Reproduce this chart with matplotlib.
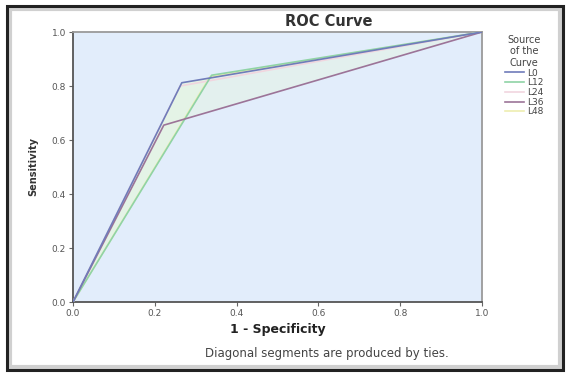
import matplotlib
matplotlib.use("Agg")
import matplotlib.pyplot as plt
import matplotlib.patches as mpatches
from matplotlib.lines import Line2D

# ROC points (1 - specificity, sensitivity) per source
SOURCES = ["L0", "L12", "L24", "L36", "L48"]
FPR = {
    "L0":  [0.0, 0.266, 1.0],
    "L12": [0.0, 0.339, 1.0],
    "L24": [0.0, 0.262, 1.0],
    "L36": [0.0, 0.222, 1.0],
    "L48": [0.0, 0.335, 1.0],
}
TPR = {
    "L0":  [0.0, 0.812, 1.0],
    "L12": [0.0, 0.840, 1.0],
    "L24": [0.0, 0.800, 1.0],
    "L36": [0.0, 0.655, 1.0],
    "L48": [0.0, 0.835, 1.0],
}
TICKS = [0.0, 0.2, 0.4, 0.6, 0.8, 1.0]

COLORS = {
    "L0":  "#6f7cba",
    "L12": "#8fd3a6",
    "L24": "#f1d6df",
    "L36": "#9c7498",
    "L48": "#eeeeb0",
}
ORDER = ["L48", "L24", "L12", "L36", "L0"]
FILL = "#e4f3e6"

fig = plt.figure(figsize=(5.71, 3.76), dpi=100)
fig.patch.set_facecolor("white")

# outer frame with soft inner shadow
shadow = mpatches.Rectangle((10 / 571, 9 / 376), 550 / 571, 358 / 376,
                            transform=fig.transFigure, fill=False,
                            ec="#d0d0d0", lw=3, zorder=0)
fig.patches.append(shadow)
frame = mpatches.Rectangle((7 / 571, 6 / 376), 556 / 571, 364 / 376,
                           transform=fig.transFigure, fill=False,
                           ec="#222222", lw=2.2, zorder=0)
fig.patches.append(frame)

ax = fig.add_axes([73 / 571, 1 - 302 / 376, 409 / 571, 270 / 376])
ax.set_facecolor("#e2edfb")

# pale fill between the curves
ax.fill(FPR["L0"] + FPR["L12"][::-1], TPR["L0"] + TPR["L12"][::-1],
        color=FILL, lw=0, zorder=1)
ax.fill(FPR["L12"][1:] + FPR["L36"][1:][::-1], TPR["L12"][1:] + TPR["L36"][1:][::-1],
        color=FILL, alpha=0.6, lw=0, zorder=1)

for s in ORDER:
    ax.plot(FPR[s], TPR[s], color=COLORS[s], lw=1.2, zorder=3)

ax.set_xlim(0, 1)
ax.set_ylim(0, 1)
ax.set_xticks(TICKS)
ax.set_yticks(TICKS)
ax.set_xticklabels([f"{t:.1f}" for t in TICKS], fontsize=6.5, color="#555555")
ax.set_yticklabels([f"{t:.1f}" for t in TICKS], fontsize=6.5, color="#555555")
ax.tick_params(direction="out", length=3, width=0.8, color="#666666", pad=2)
for side in ("left", "bottom"):
    ax.spines[side].set_color("#555555")
    ax.spines[side].set_linewidth(1.3)
for side in ("top", "right"):
    ax.spines[side].set_color("#9a9a9a")
    ax.spines[side].set_linewidth(1.3)

fig.text(329 / 571, 1 - 21 / 376, "ROC Curve", ha="center", va="center",
         fontsize=10.5, fontweight="bold", color="#333333")
fig.text(278 / 571, 1 - 330 / 376, "1 - Specificity", ha="center", va="center",
         fontsize=9, fontweight="bold", color="#222222")
ax.set_ylabel("Sensitivity", fontsize=7, fontweight="bold", color="#333333", labelpad=10)

fig.text(327 / 571, 1 - 354 / 376, "Diagonal segments are produced by ties.",
         ha="center", va="center", fontsize=8.5, color="#444444")

handles = [Line2D([0], [0], color=COLORS[s], lw=1.2) for s in SOURCES]
leg = fig.legend(handles, SOURCES, title="Source\nof the\nCurve",
                 loc="upper left", bbox_to_anchor=(501 / 571, 1 - 31 / 376),
                 frameon=False, fontsize=6.5, title_fontsize=7,
                 handlelength=2.2, handletextpad=0.3, labelspacing=0.08,
                 borderaxespad=0)
leg.get_title().set_color("#444444")
leg.get_title().set_multialignment("center")
for t in leg.get_texts():
    t.set_color("#444444")

fig.savefig("out.png", dpi=100, facecolor="white")
